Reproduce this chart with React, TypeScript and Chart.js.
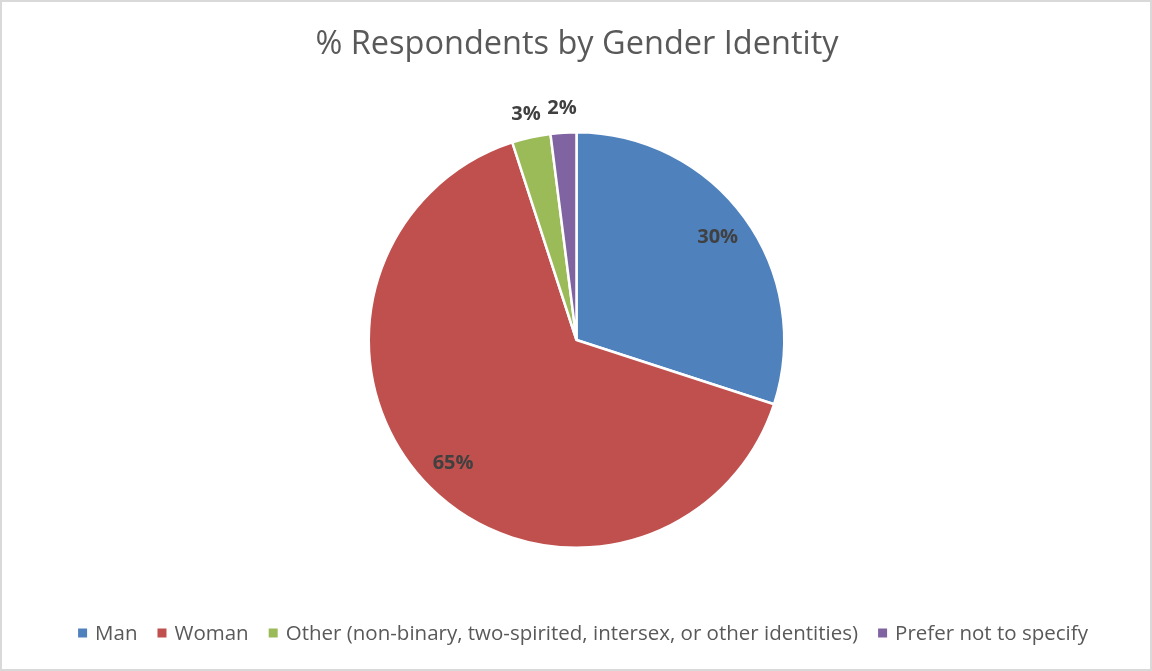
import React, { useEffect, useRef } from "react";
import { Chart, registerables } from "chart.js";

Chart.register(...registerables);

const TITLE = "% Respondents by Gender Identity";
const categories = [
  "Man",
  "Woman",
  "Other (non-binary, two-spirited, intersex, or other identities)",
  "Prefer not to specify",
];
const percentages = [30, 65, 3, 2];
const sliceColors = ["#4F81BD", "#C0504D", "#9BBB59", "#8064A2"];

const FONT = '"Open Sans", "Noto Sans", sans-serif';

// Frame, title, legend and value labels drawn on top of the pie
const decorations = {
  id: "decorations",
  afterDraw(chart: any) {
    const ctx = chart.ctx as CanvasRenderingContext2D;
    const W = chart.width;
    const H = chart.height;
    ctx.save();

    // outer frame
    ctx.strokeStyle = "#D9D9D9";
    ctx.lineWidth = 2;
    ctx.strokeRect(1, 1, W - 2, H - 2);

    // title
    ctx.fillStyle = "#595959";
    ctx.font = `32.5px ${FONT}`;
    ctx.textAlign = "center";
    ctx.textBaseline = "middle";
    ctx.fillText(TITLE, 577, 45);

    // value labels
    const meta = chart.getDatasetMeta(0);
    ctx.font = `bold 20px ${FONT}`;
    ctx.fillStyle = "#404040";
    meta.data.forEach((arc: any, i: number) => {
      const p = arc.getProps(["x", "y", "startAngle", "endAngle", "outerRadius"], true);
      const mid = (p.startAngle + p.endAngle) / 2;
      const v = percentages[i];
      const r = v >= 10 ? p.outerRadius * 0.84 : p.outerRadius + 24;
      ctx.fillText(`${v}%`, p.x + Math.cos(mid) * r, p.y + Math.sin(mid) * r);
    });

    // legend
    ctx.font = `20.5px ${FONT}`;
    ctx.textAlign = "left";
    const box = 9;
    const boxGap = 8;
    const itemGap = 20;
    const widths = categories.map((c) => box + boxGap + ctx.measureText(c).width);
    const total = widths.reduce((a, b) => a + b, 0) + itemGap * (categories.length - 1);
    let x = 583 - total / 2;
    const ly = 633;
    categories.forEach((c, i) => {
      ctx.fillStyle = sliceColors[i];
      ctx.fillRect(x, ly - box / 2, box, box);
      ctx.fillStyle = "#595959";
      ctx.fillText(c, x + box + boxGap, ly + 1);
      x += widths[i] + itemGap;
    });

    ctx.restore();
  },
};

export default function App() {
  const canvasRef = useRef<HTMLCanvasElement>(null);

  useEffect(() => {
    if (!canvasRef.current) return;
    const chart = new Chart(canvasRef.current, {
      type: "pie",
      data: {
        labels: categories,
        datasets: [
          {
            data: percentages,
            backgroundColor: sliceColors,
            borderColor: "#FFFFFF",
            borderWidth: 2.5,
          },
        ],
      },
      options: {
        responsive: false,
        animation: false,
        layout: { padding: { top: 131, bottom: 122, left: 1, right: 0 } },
        plugins: {
          legend: { display: false },
          title: { display: false },
          tooltip: { enabled: false },
        },
      },
      plugins: [decorations],
    });
    return () => chart.destroy();
  }, []);

  return (
    <div
      style={{
        position: "fixed",
        left: 0,
        top: 0,
        width: 1152,
        height: 671,
        background: "#FFFFFF",
      }}
    >
      <canvas ref={canvasRef} width={1152} height={671} />
    </div>
  );
}
